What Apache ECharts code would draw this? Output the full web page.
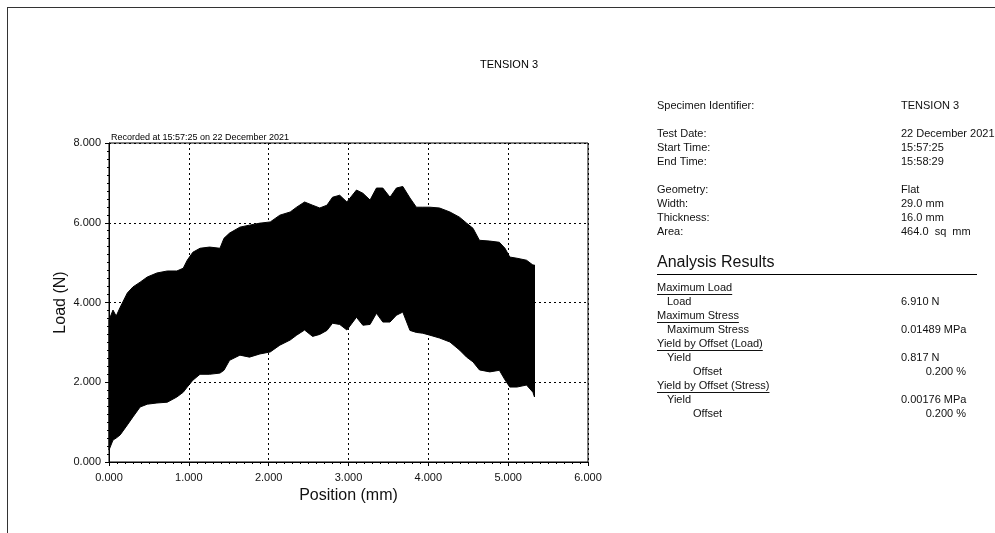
<!DOCTYPE html>
<html>
<head>
<meta charset="utf-8">
<title>TENSION 3</title>
<script src="https://cdn.jsdelivr.net/npm/echarts@6/dist/echarts.min.js"></script>
<style>
  html, body { margin: 0; padding: 0; background: #fff; }
  #chart { width: 995px; height: 533px; }
</style>
</head>
<body>
<div id="chart"></div>
<script>
// Crosshead position (mm) at which the load band is sampled
const positionMm = [
  0.00, 0.05, 0.09, 0.14, 0.23, 0.30, 0.39, 0.48, 0.60, 0.73,
  0.85, 0.93, 0.98, 1.05, 1.14, 1.26, 1.39, 1.44, 1.51, 1.64,
  1.76, 1.89, 2.02, 2.14, 2.27, 2.35, 2.45, 2.55, 2.64, 2.73,
  2.80, 2.89, 2.98, 3.10, 3.18, 3.27, 3.35, 3.43, 3.52, 3.60,
  3.68, 3.77, 3.85, 3.93, 4.02, 4.14, 4.27, 4.39, 4.48, 4.56,
  4.64, 4.77, 4.89, 4.96, 5.02, 5.11, 5.23, 5.31, 5.33
];
// Upper envelope of the oscillating load signal (N)
const loadUpper = [
  3.56, 3.81, 3.66, 3.88, 4.24, 4.39, 4.51, 4.64, 4.74, 4.79,
  4.79, 4.86, 5.06, 5.26, 5.36, 5.39, 5.36, 5.61, 5.74, 5.89,
  5.94, 5.99, 6.02, 6.19, 6.27, 6.39, 6.52, 6.44, 6.37, 6.44,
  6.64, 6.69, 6.52, 6.82, 6.74, 6.57, 6.87, 6.87, 6.64, 6.87,
  6.91, 6.62, 6.39, 6.39, 6.39, 6.37, 6.27, 6.14, 5.99, 5.86,
  5.56, 5.54, 5.51, 5.36, 5.14, 5.11, 5.06, 4.94, 4.94
];
// Lower envelope of the oscillating load signal (N)
const loadLower = [
  0.30, 0.55, 0.60, 0.68, 0.93, 1.13, 1.38, 1.45, 1.48, 1.50,
  1.63, 1.75, 1.88, 2.05, 2.20, 2.20, 2.23, 2.30, 2.55, 2.68,
  2.63, 2.71, 2.76, 2.93, 3.06, 3.18, 3.31, 3.15, 3.20, 3.30,
  3.48, 3.45, 3.31, 3.63, 3.43, 3.45, 3.73, 3.51, 3.51, 3.68,
  3.76, 3.30, 3.25, 3.23, 3.18, 3.11, 3.01, 2.81, 2.63, 2.51,
  2.31, 2.26, 2.30, 2.06, 1.88, 1.88, 1.93, 1.75, 1.63
];

// Report panel text
const specimenRows = [
  ['Specimen Identifier:', 'TENSION 3', 106],
  ['Test Date:', '22 December 2021', 134],
  ['Start Time:', '15:57:25', 148],
  ['End Time:', '15:58:29', 162],
  ['Geometry:', 'Flat', 190],
  ['Width:', '29.0 mm', 204],
  ['Thickness:', '16.0 mm', 218],
  ['Area:', '464.0  sq  mm', 232]
];
// [label, value, indent level, underlined heading?]
const resultRows = [
  ['Maximum Load', '', 0, true],
  ['Load', '6.910 N', 1, false],
  ['Maximum Stress', '', 0, true],
  ['Maximum Stress', '0.01489 MPa', 1, false],
  ['Yield by Offset (Load)', '', 0, true],
  ['Yield', '0.817 N', 1, false],
  ['Offset', '0.200 %', 2, false],
  ['Yield by Offset (Stress)', '', 0, true],
  ['Yield', '0.00176 MPa', 1, false],
  ['Offset', '0.200 %', 2, false]
];

const FONT = 'Arial, "Liberation Sans", sans-serif';
const chart = echarts.init(document.getElementById('chart'), null, { renderer: 'canvas' });

const measureCtx = document.createElement('canvas').getContext('2d');
function textWidth(t, font) { measureCtx.font = font; return measureCtx.measureText(t).width; }

const graphics = [];
// page frame
graphics.push({ type: 'line', shape: { x1: 7, y1: 7.5, x2: 995, y2: 7.5 }, style: { stroke: '#333', lineWidth: 1 }, silent: true });
graphics.push({ type: 'line', shape: { x1: 7.5, y1: 7, x2: 7.5, y2: 533 }, style: { stroke: '#333', lineWidth: 1 }, silent: true });
// title
graphics.push({ type: 'text', x: 509, y: 65, style: { text: 'TENSION 3', font: '11px ' + FONT, fill: '#000', align: 'center', verticalAlign: 'middle' } });
// recording stamp above the plot
graphics.push({ type: 'text', x: 111, y: 138, style: { text: 'Recorded at 15:57:25 on 22 December 2021', font: '9px ' + FONT, fill: '#000', align: 'left', verticalAlign: 'middle' } });

const panelFont = '11px ' + FONT;
specimenRows.forEach(([label, value, y]) => {
  graphics.push({ type: 'text', x: 657, y: y, style: { text: label, font: panelFont, fill: '#111', align: 'left', verticalAlign: 'middle' } });
  graphics.push({ type: 'text', x: 901, y: y, style: { text: value, font: panelFont, fill: '#111', align: 'left', verticalAlign: 'middle' } });
});

graphics.push({ type: 'text', x: 657, y: 263, style: { text: 'Analysis Results', font: '16px ' + FONT, fill: '#111', align: 'left', verticalAlign: 'middle' } });
graphics.push({ type: 'line', shape: { x1: 657, y1: 274.5, x2: 977, y2: 274.5 }, style: { stroke: '#000', lineWidth: 1 }, silent: true });

const indentX = [657, 667, 693];
resultRows.forEach(([label, value, level, heading], i) => {
  const y = 288 + i * 14;
  graphics.push({ type: 'text', x: indentX[level], y: y, style: { text: label, font: panelFont, fill: '#111', align: 'left', verticalAlign: 'middle' } });
  if (heading) {
    const w = textWidth(label, panelFont);
    graphics.push({ type: 'line', shape: { x1: 657, y1: y + 6.5, x2: 657 + w, y2: y + 6.5 }, style: { stroke: '#111', lineWidth: 1 }, silent: true });
  }
  if (value) {
    const rightAligned = level === 2;
    graphics.push({ type: 'text', x: rightAligned ? 966 : 901, y: y, style: { text: value, font: panelFont, fill: '#111', align: rightAligned ? 'right' : 'left', verticalAlign: 'middle' } });
  }
});

// one row per sample: [position, lower load, upper load]
const bandData = positionMm.map((x, i) => [x, loadLower[i], loadUpper[i]]);

// Filled load band: upper envelope left-to-right, then lower envelope back.
function renderBand(params, api) {
  if (params.dataIndexInside !== 0) return null;
  const n = params.dataInsideLength;
  const pts = [];
  for (let i = 0; i < n; i++) pts.push(api.coord([api.value(0, i), api.value(2, i)]));
  for (let i = n - 1; i >= 0; i--) pts.push(api.coord([api.value(0, i), api.value(1, i)]));
  return {
    type: 'polygon',
    shape: { points: pts },
    style: { fill: '#000', stroke: '#000', lineWidth: 1 }
  };
}

const gridDots = { type: [2, 3], color: '#000', width: 1 };

chart.setOption({
  animation: false,
  backgroundColor: '#fff',
  textStyle: { fontFamily: FONT },
  grid: { left: 109, top: 143, right: 407, bottom: 71, show: true, borderColor: '#000', borderWidth: 1, backgroundColor: 'transparent' },
  xAxis: {
    type: 'value', min: 0, max: 6, interval: 1,
    name: 'Position (mm)', nameLocation: 'middle', nameGap: 22,
    nameTextStyle: { fontSize: 16, color: '#111', fontFamily: FONT },
    axisLine: { show: true, lineStyle: { color: '#000', width: 1 } },
    axisTick: { show: true, length: 4, lineStyle: { color: '#000' } },
    minorTick: { show: true, splitNumber: 10, length: 2, lineStyle: { color: '#000' } },
    axisLabel: { formatter: v => v.toFixed(3), fontSize: 11, color: '#111', margin: 10, fontFamily: FONT },
    splitLine: { show: true, lineStyle: gridDots }
  },
  yAxis: {
    type: 'value', min: 0, max: 8, interval: 2,
    name: 'Load (N)', nameLocation: 'middle', nameGap: 40, nameRotate: 90,
    nameTextStyle: { fontSize: 16, color: '#111', fontFamily: FONT },
    axisLine: { show: true, lineStyle: { color: '#000', width: 1 } },
    axisTick: { show: true, length: 4, lineStyle: { color: '#000' } },
    minorTick: { show: true, splitNumber: 10, length: 2, lineStyle: { color: '#000' } },
    axisLabel: { formatter: v => v.toFixed(3), fontSize: 11, color: '#111', margin: 8, fontFamily: FONT },
    splitLine: { show: true, lineStyle: gridDots }
  },
  series: [
    {
      name: 'Load', type: 'custom', data: bandData,
      encode: { x: 0, y: [1, 2] },
      renderItem: renderBand, silent: true, z: 3
    }
  ],
  graphic: graphics
});
</script>
</body>
</html>
